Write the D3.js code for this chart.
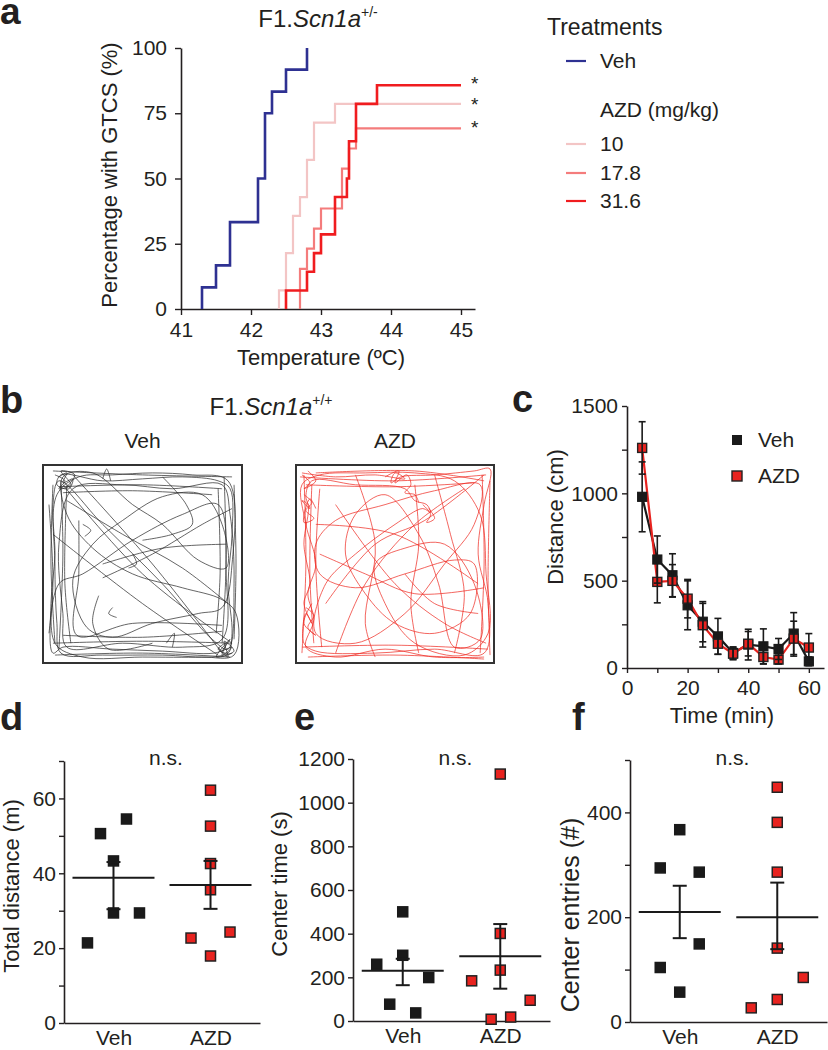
<!DOCTYPE html>
<html><head><meta charset="utf-8">
<script src="https://cdn.jsdelivr.net/npm/d3@7"></script>
<style>
body{margin:0;background:#fff;}
svg{display:block;font-family:"Liberation Sans",Arial,Helvetica,sans-serif;}
</style></head><body>
<svg id="fig" width="828" height="1050"></svg>
<script>
// ---------------- DATA ----------------
// Panel a: cumulative percentage with GTCS vs temperature (step curves)
const aTicksX = [41, 42, 43, 44, 45];
const aTicksY = [0, 25, 50, 75, 100];
const vehTemp = [41.3, 41.5, 41.7, 42.1, 42.2, 42.3, 42.5, 42.8];
const vehPct  = [8.3, 16.7, 33.3, 50, 75, 83.3, 91.7, 100];
const azd10Temp = [42.4, 42.5, 42.6, 42.7, 42.8, 42.9, 43.2];
const azd10Pct  = [7.1, 21.4, 35.7, 42.9, 57.1, 71.4, 78.6];
const azd17Temp = [42.7, 42.8, 42.9, 43.0, 43.3, 43.4, 43.5];
const azd17Pct  = [15.4, 23.1, 30.8, 38.5, 53.8, 61.5, 69.2];
const azd31Temp = [42.5, 42.8, 42.9, 43.0, 43.2, 43.37, 43.4, 43.5, 43.8];
const azd31Pct  = [7.1, 14.3, 21.4, 28.6, 42.9, 50, 64.3, 78.6, 85.7];
const doseLabels = ["10", "17.8", "31.6"];

// Panel b: open-field tracks (normalized arena coordinates 0..1)
const vehTrack = [
  [[0.08,0.06],[0.12,0.04],[0.10,0.09],[0.15,0.07],[0.13,0.12],[0.07,0.10],[0.09,0.05],[0.30,0.08],[0.50,0.07],[0.70,0.06],[0.88,0.08],[0.94,0.12],[0.95,0.35],[0.93,0.60],[0.95,0.85],[0.93,0.95],[0.88,0.93],[0.92,0.90],[0.90,0.96],[0.95,0.92],[0.86,0.95],[0.60,0.94],[0.35,0.93],[0.10,0.92],[0.05,0.95],[0.04,0.70],[0.06,0.45],[0.05,0.20],[0.08,0.08],[0.30,0.30],[0.60,0.60],[0.85,0.88],[0.93,0.93],[0.96,0.60],[0.94,0.25],[0.90,0.10],[0.65,0.12],[0.40,0.10],[0.15,0.12],[0.08,0.40],[0.10,0.75],[0.12,0.92],[0.40,0.90],[0.70,0.92],[0.90,0.88],[0.92,0.55],[0.88,0.20],[0.70,0.25],[0.45,0.38],[0.20,0.55],[0.08,0.60],[0.06,0.90],[0.20,0.97],[0.50,0.97],[0.80,0.97],[0.96,0.96],[0.97,0.75],[0.90,0.68],[0.70,0.62],[0.45,0.55],[0.25,0.42],[0.12,0.25],[0.10,0.06],[0.25,0.04],[0.45,0.20],[0.60,0.30],[0.78,0.48],[0.92,0.52],[0.90,0.30],[0.80,0.15],[0.60,0.16],[0.40,0.28],[0.25,0.40],[0.15,0.58],[0.22,0.82],[0.35,0.87],[0.55,0.80],[0.78,0.75],[0.90,0.72],[0.95,0.50],[0.93,0.08],[0.75,0.05],[0.55,0.04],[0.35,0.05],[0.18,0.06],[0.07,0.15],[0.06,0.50],[0.07,0.80],[0.09,0.95],[0.30,0.96],[0.60,0.96],[0.85,0.97],[0.95,0.95]],
  [[0.18,0.28],[0.18,0.55],[0.17,0.86],[0.45,0.80],[0.90,0.81]],
  [[0.12,0.18],[0.40,0.35],[0.70,0.52],[0.93,0.70]],
  [[0.30,0.57],[0.55,0.45],[0.80,0.30],[0.95,0.22]],
  [[0.28,0.66],[0.25,0.80],[0.33,0.93],[0.55,0.90]],
  [[0.06,0.05],[0.11,0.08],[0.08,0.12],[0.14,0.10],[0.09,0.03],[0.16,0.05],[0.12,0.11]],
  [[0.88,0.92],[0.93,0.97],[0.91,0.89],[0.96,0.94],[0.87,0.97],[0.94,0.88],[0.90,0.94]],
  [[0.05,0.10],[0.04,0.50],[0.06,0.90]],
  [[0.09,0.08],[0.10,0.45],[0.08,0.93]],
  [[0.12,0.10],[0.11,0.60],[0.14,0.90]],
  [[0.03,0.20],[0.05,0.60],[0.03,0.85]],
  [[0.91,0.06],[0.92,0.50],[0.90,0.90]],
  [[0.96,0.10],[0.97,0.50],[0.96,0.88]],
  [[0.88,0.12],[0.89,0.55],[0.87,0.85]],
  [[0.05,0.03],[0.50,0.05],[0.95,0.06]],
  [[0.08,0.11],[0.50,0.10],[0.90,0.12]],
  [[0.10,0.14],[0.45,0.13],[0.85,0.15]],
  [[0.05,0.90],[0.50,0.89],[0.95,0.90]],
  [[0.06,0.96],[0.50,0.95],[0.94,0.97]],
  [[0.10,0.86],[0.50,0.87],[0.90,0.84]],
  [[0.30,0.07],[0.32,0.02],[0.34,0.08]],
  [[0.20,0.30],[0.24,0.33],[0.21,0.36]],
  [[0.45,0.45],[0.47,0.50],[0.43,0.52]],
  [[0.35,0.72],[0.33,0.75],[0.37,0.77]],
  [[0.62,0.90],[0.66,0.85],[0.65,0.92]],
  [[0.10,0.10],[0.50,0.55],[0.95,0.90]],
  [[0.15,0.05],[0.55,0.50],[0.90,0.95]],
  [[0.05,0.35],[0.50,0.70],[0.88,0.96]],
  [[0.30,0.50],[0.60,0.42],[0.92,0.40]],
  [[0.60,0.06],[0.72,0.20],[0.75,0.30],[0.65,0.35],[0.50,0.38]]
];
const azdTrack = [
  [[0.03,0.04],[0.20,0.06],[0.40,0.05],[0.55,0.07],[0.50,0.04],[0.48,0.09],[0.53,0.06],[0.70,0.05],[0.90,0.03],[0.98,0.02],[0.95,0.20],[0.92,0.45],[0.97,0.70],[0.95,0.95],[0.70,0.93],[0.40,0.95],[0.10,0.94],[0.04,0.90],[0.05,0.75],[0.08,0.80],[0.04,0.70],[0.07,0.60],[0.04,0.40],[0.06,0.20],[0.03,0.18],[0.07,0.22],[0.05,0.16],[0.08,0.08],[0.30,0.10],[0.55,0.12],[0.60,0.18],[0.66,0.20],[0.68,0.24],[0.64,0.22],[0.50,0.30],[0.30,0.45],[0.15,0.60],[0.10,0.85],[0.30,0.90],[0.55,0.75],[0.75,0.50],[0.90,0.30],[0.93,0.10],[0.70,0.13],[0.45,0.20],[0.20,0.28],[0.10,0.40],[0.12,0.55],[0.30,0.62],[0.55,0.55],[0.80,0.48],[0.90,0.50],[0.88,0.75],[0.70,0.85],[0.50,0.80],[0.35,0.65],[0.25,0.45],[0.30,0.25],[0.45,0.15],[0.62,0.35],[0.72,0.60],[0.80,0.92],[0.93,0.88],[0.90,0.60],[0.75,0.40],[0.55,0.42],[0.40,0.50],[0.45,0.70],[0.60,0.90],[0.85,0.96],[0.97,0.85],[0.96,0.55],[0.93,0.25],[0.80,0.08],[0.60,0.04],[0.35,0.04],[0.12,0.05],[0.03,0.10],[0.05,0.30],[0.10,0.50],[0.06,0.65],[0.09,0.78],[0.05,0.92],[0.20,0.97],[0.45,0.93],[0.70,0.97],[0.95,0.97]],
  [[0.04,0.15],[0.08,0.19],[0.05,0.23],[0.09,0.27],[0.04,0.29],[0.07,0.17],[0.10,0.22]],
  [[0.05,0.72],[0.09,0.76],[0.06,0.82],[0.10,0.86],[0.04,0.80],[0.08,0.70]],
  [[0.45,0.06],[0.52,0.03],[0.50,0.09],[0.56,0.05],[0.58,0.10],[0.55,0.14],[0.60,0.15],[0.62,0.19]],
  [[0.15,0.70],[0.40,0.40],[0.65,0.28],[0.95,0.05]],
  [[0.20,0.20],[0.50,0.60],[0.75,0.80],[0.96,0.90]],
  [[0.60,0.10],[0.62,0.40],[0.58,0.70],[0.62,0.95]],
  [[0.04,0.05],[0.05,0.50],[0.03,0.95]],
  [[0.08,0.10],[0.07,0.55],[0.09,0.90]],
  [[0.12,0.12],[0.10,0.50],[0.13,0.92]],
  [[0.94,0.05],[0.95,0.50],[0.93,0.95]],
  [[0.98,0.08],[0.97,0.60],[0.98,0.96]],
  [[0.02,0.06],[0.50,0.08],[0.96,0.05]],
  [[0.05,0.10],[0.50,0.11],[0.90,0.09]],
  [[0.10,0.04],[0.60,0.03],[0.95,0.08]],
  [[0.03,0.92],[0.50,0.91],[0.97,0.93]],
  [[0.06,0.97],[0.50,0.96],[0.95,0.98]],
  [[0.10,0.30],[0.50,0.35],[0.92,0.60]],
  [[0.20,0.95],[0.35,0.60],[0.60,0.30],[0.85,0.12]],
  [[0.30,0.05],[0.40,0.40],[0.35,0.80],[0.40,0.97]],
  [[0.55,0.55],[0.70,0.70],[0.92,0.75]],
  [[0.12,0.45],[0.35,0.55],[0.60,0.65],[0.95,0.62]],
  [[0.70,0.05],[0.78,0.35],[0.85,0.65],[0.80,0.95]],
  [[0.03,0.05],[0.07,0.09],[0.04,0.12],[0.10,0.08],[0.06,0.03]],
  [[0.64,0.20],[0.68,0.25],[0.66,0.29],[0.70,0.27],[0.67,0.22]]
];

// Panel c: distance per 5-min bin
const timeMin = [5, 10, 15, 20, 25, 30, 35, 40, 45, 50, 55, 60];
const cVehDist = [980, 621, 531, 359, 265, 181, 86, 134, 124, 109, 197, 38];
const cVehSem  = [200, 135, 123, 140, 115, 103, 35, 88, 100, 60, 120, 25];
const cAzdDist = [1260, 493, 499, 397, 245, 139, 82, 139, 63, 48, 168, 117];
const cAzdSem  = [150, 120, 93, 110, 125, 60, 35, 70, 40, 25, 100, 80];
const cTicksX = [0, 10, 20, 30, 40, 50, 60];
const cTicksY = [0, 250, 500, 750, 1000, 1250, 1500];

// Panels d-f: individual animals, mean and SEM
const groups = ["Veh", "AZD"];
const dVeh = [21.4, 50.6, 43.3, 29.4, 29.4, 54.5];
const dVehJit = [-2, -1, 0, 0, 2, 1];
const dAzd = [62.2, 52.6, 42.6, 35.6, 22.7, 17.9, 24.3];
const dAzdJit = [0, 0, 0, 0, -1.5, 0, 1.5];
const dMean = [38.8, 36.9], dLo = [30.4, 30.5], dHi = [43.0, 43.3];
const dTicks = [0, 10, 20, 30, 40, 50, 60, 70];

const eVeh = [260, 500, 301, 77, 37, 199];
const eVehJit = [-2, 0, 0, -1, 1, 2];
const eAzd = [184, 1131, 401, 233, 8, 18, 95];
const eAzdJit = [-2.2, 0, 0, 0, -0.7, 0.8, 2.3];
const eMean = [230, 297], eLo = [164, 148], eHi = [285, 444];
const eTicks = [0, 200, 400, 600, 800, 1000, 1200];

const fVeh = [294, 367, 286, 149, 104, 57];
const fVehJit = [-1.5, 0, 1.5, 1.5, -1.5, 0];
const fAzd = [448, 381, 286, 141, 27, 43, 85];
const fAzdJit = [0, 0, 0, 0, -2, 0, 2];
const fMean = [210, 200], fLo = [160, 139], fHi = [260, 266];
const fTicks = [0, 100, 200, 300, 400, 500];

// ---------------- STYLE ----------------
const INK = "#231f20";
const BLUE = "#2e3192", RED = "#f01c1f", MID = "#f47c7c", LIGHT = "#f3c5c5";
const MRED = "#e8231f";
const FONT = '"Liberation Sans", Arial, Helvetica, sans-serif';

const svg = d3.select("#fig");

function styleAxis(g, fs) {
  g.attr("font-family", FONT).attr("font-size", fs);
  g.select(".domain").attr("stroke", INK).attr("stroke-width", 1.6);
  g.selectAll(".tick line").attr("stroke", INK).attr("stroke-width", 1.4);
  g.selectAll(".tick text").attr("fill", INK);
}
function txt(x, y, s, fs, opts = {}) {
  const t = svg.append("text").attr("x", x).attr("y", y).attr("font-size", fs)
    .attr("fill", INK).attr("font-family", FONT).text(s);
  if (opts.anchor) t.attr("text-anchor", opts.anchor);
  if (opts.bold) t.attr("font-weight", "bold");
  return t;
}
function vtxt(x, y, s, fs) {
  return svg.append("text").attr("transform", `translate(${x},${y}) rotate(-90)`)
    .attr("text-anchor", "middle").attr("font-size", fs).attr("fill", INK)
    .attr("font-family", FONT).text(s);
}
function titleSup(cx, y, sup) {
  const t = svg.append("text").attr("x", cx).attr("y", y).attr("text-anchor", "middle")
    .attr("font-size", 24).attr("fill", INK).attr("font-family", FONT);
  t.append("tspan").text("F1.");
  t.append("tspan").attr("font-style", "italic").text("Scn1a");
  t.append("tspan").attr("font-size", 14).attr("dy", -10).text(sup);
}

// ---------------- PANEL LABELS ----------------
txt(0, 24, "a", 37, {bold: true});
txt(0, 413, "b", 38, {bold: true});
txt(512, 412, "c", 38, {bold: true});
txt(0, 730, "d", 38, {bold: true});
txt(294, 730, "e", 38, {bold: true});
txt(572, 730, "f", 38, {bold: true});

// ---------------- PANEL A ----------------
{
  const x = d3.scaleLinear().domain([41, 45.2]).range([181, 475]);
  const y = d3.scaleLinear().domain([0, 100]).range([309, 48]);
  const gx = svg.append("g").attr("transform", "translate(0,309)")
    .call(d3.axisBottom(x).tickValues(aTicksX).tickFormat(d3.format("d"))
      .tickSize(6).tickPadding(7).tickSizeOuter(0));
  styleAxis(gx, 21);
  const gy = svg.append("g").attr("transform", "translate(181,0)")
    .call(d3.axisLeft(y).tickValues(aTicksY).tickSize(6).tickPadding(8).tickSizeOuter(0));
  styleAxis(gy, 21);
  titleSup(318, 27, "+/-");
  txt(321, 365, "Temperature (ºC)", 22, {anchor: "middle"});
  vtxt(117, 175, "Percentage with GTCS (%)", 22);

  const step = d3.line().x(d => x(d[0])).y(d => y(d[1])).curve(d3.curveStepAfter);
  function pts(T, P, extend) {
    const p = [[T[0], 0]];
    T.forEach((t, i) => p.push([t, P[i]]));
    if (extend) p.push([45, P[P.length - 1]]);
    return p;
  }
  const series = [
    {T: azd10Temp, P: azd10Pct, c: LIGHT, w: 2.2, ext: true},
    {T: azd17Temp, P: azd17Pct, c: MID, w: 2.2, ext: true},
    {T: azd31Temp, P: azd31Pct, c: RED, w: 2.6, ext: true},
    {T: vehTemp, P: vehPct, c: BLUE, w: 2.6, ext: false}
  ];
  series.forEach(s => {
    svg.append("path").attr("d", step(pts(s.T, s.P, s.ext))).attr("fill", "none")
      .attr("stroke", s.c).attr("stroke-width", s.w);
  });
  const starOff = [5, 7, 6];
  [azd31Pct, azd10Pct, azd17Pct].forEach((P, i) => {
    txt(x(45) + 10, y(P[P.length - 1]) + starOff[i], "*", 19);
  });

  // legend
  txt(547, 35, "Treatments", 23);
  svg.append("line").attr("x1", 566).attr("x2", 586).attr("y1", 61).attr("y2", 61)
    .attr("stroke", BLUE).attr("stroke-width", 2.2);
  txt(600, 68, "Veh", 21);
  txt(600, 117, "AZD (mg/kg)", 21);
  const lc = [LIGHT, MID, RED], ly = [144, 173, 201];
  doseLabels.forEach((l, i) => {
    svg.append("line").attr("x1", 566).attr("x2", 586).attr("y1", ly[i]).attr("y2", ly[i])
      .attr("stroke", lc[i]).attr("stroke-width", 2.2);
    txt(600, ly[i] + 7, l, 21);
  });
}

// ---------------- PANEL B ----------------
{
  titleSup(271, 415, "+/+");
  const boxes = [
    {x0: 43, x1: 242, label: "Veh", track: vehTrack, c: "#2a2a2a"},
    {x0: 296, x1: 494, label: "AZD", track: azdTrack, c: "#ee2a22"}
  ];
  boxes.forEach(b => {
    const sx = d3.scaleLinear().domain([0, 1]).range([b.x0, b.x1]);
    const sy = d3.scaleLinear().domain([0, 1]).range([465, 663]);
    txt((b.x0 + b.x1) / 2, 448, b.label, 21, {anchor: "middle"});
    const line = d3.line().x(d => sx(d[0])).y(d => sy(d[1])).curve(d3.curveCatmullRom.alpha(0.5));
    b.track.forEach(seg => {
      svg.append("path").attr("d", line(seg)).attr("fill", "none")
        .attr("stroke", b.c).attr("stroke-width", 0.8).attr("stroke-opacity", 0.9);
    });
    svg.append("rect").attr("x", b.x0).attr("y", 465).attr("width", b.x1 - b.x0)
      .attr("height", 198).attr("fill", "none").attr("stroke", "#333").attr("stroke-width", 2);
  });
}

// ---------------- PANEL C ----------------
{
  const x = d3.scaleLinear().domain([0, 65]).range([627, 824]);
  const y = d3.scaleLinear().domain([0, 1500]).range([668, 406]);
  const gx = svg.append("g").attr("transform", "translate(0,668)")
    .call(d3.axisBottom(x).tickValues(cTicksX).tickFormat(d => d % 20 === 0 ? d : "")
      .tickSize(5).tickPadding(7).tickSizeOuter(0));
  styleAxis(gx, 21);
  const gy = svg.append("g").attr("transform", "translate(627,0)")
    .call(d3.axisLeft(y).tickValues(cTicksY).tickFormat(d => d % 500 === 0 ? d : "")
      .tickSize(5).tickPadding(4).tickSizeOuter(0));
  styleAxis(gy, 21);
  txt(722, 723, "Time (min)", 22, {anchor: "middle"});
  vtxt(563, 517, "Distance (cm)", 22);

  const line = d3.line().x((d, i) => x(timeMin[i])).y(d => y(d));
  svg.append("path").attr("d", line(cVehDist)).attr("fill", "none").attr("stroke", "#1a1a1a").attr("stroke-width", 2.2);
  svg.append("path").attr("d", line(cAzdDist)).attr("fill", "none").attr("stroke", MRED).attr("stroke-width", 2.2);
  const sq = 9;
  svg.append("g").selectAll("rect").data(cVehDist).join("rect")
    .attr("x", (d, i) => x(timeMin[i]) - sq / 2).attr("y", d => y(d) - sq / 2)
    .attr("width", sq).attr("height", sq).attr("fill", "#1a1a1a").attr("stroke", "#1a1a1a").attr("stroke-width", 1.2);
  svg.append("g").selectAll("rect").data(cAzdDist).join("rect")
    .attr("x", (d, i) => x(timeMin[i]) - sq / 2).attr("y", d => y(d) - sq / 2)
    .attr("width", sq).attr("height", sq).attr("fill", MRED).attr("stroke", "#222").attr("stroke-width", 1.4);
  function errs(vals, sems) {
    const g = svg.append("g").attr("stroke", "#1a1a1a").attr("stroke-width", 1.6);
    vals.forEach((v, i) => {
      const cx = x(timeMin[i]), lo = y(v - sems[i]), hi = y(v + sems[i]);
      g.append("line").attr("x1", cx).attr("x2", cx).attr("y1", lo).attr("y2", hi);
      g.append("line").attr("x1", cx - 3.5).attr("x2", cx + 3.5).attr("y1", lo).attr("y2", lo);
      g.append("line").attr("x1", cx - 3.5).attr("x2", cx + 3.5).attr("y1", hi).attr("y2", hi);
    });
  }
  errs(cVehDist, cVehSem);
  errs(cAzdDist, cAzdSem);
  // legend
  svg.append("rect").attr("x", 732).attr("y", 435).attr("width", 10).attr("height", 10).attr("fill", "#1a1a1a");
  txt(758, 447, "Veh", 21);
  svg.append("rect").attr("x", 732).attr("y", 471).attr("width", 10).attr("height", 10)
    .attr("fill", MRED).attr("stroke", "#222").attr("stroke-width", 1.4);
  txt(758, 483, "AZD", 21);
}

// ---------------- PANELS D-F ----------------
function scatterPanel(cfg) {
  const x = d3.scalePoint().domain(groups).range([cfg.x0, cfg.x1]).padding(0.51);
  const y = d3.scaleLinear().domain(cfg.domain).range([cfg.yb, cfg.yt]);
  const gx = svg.append("g").attr("transform", `translate(0,${cfg.yb})`)
    .call(d3.axisBottom(x).tickSize(0).tickPadding(7).tickSizeOuter(0));
  styleAxis(gx, 21);
  const gy = svg.append("g").attr("transform", `translate(${cfg.x0},0)`)
    .call(d3.axisLeft(y).tickValues(cfg.ticks).tickFormat(cfg.fmt).tickSize(5).tickPadding(3).tickSizeOuter(0));
  styleAxis(gy, 21);
  vtxt(cfg.titleX, cfg.titleY, cfg.title, cfg.titleSize);
  txt((x("Veh") + x("AZD")) / 2 + 4, 765, "n.s.", 21, {anchor: "middle"});
  const sq = 10;
  const sets = [
    {g: "Veh", v: cfg.veh, j: cfg.vehJit, fill: "#1a1a1a", stroke: "#1a1a1a"},
    {g: "AZD", v: cfg.azd, j: cfg.azdJit, fill: MRED, stroke: "#222"}
  ];
  sets.forEach(s => {
    svg.append("g").selectAll("rect").data(s.v).join("rect")
      .attr("x", (d, i) => x(s.g) + s.j[i] * cfg.jit - sq / 2)
      .attr("y", d => y(d) - sq / 2).attr("width", sq).attr("height", sq)
      .attr("fill", s.fill).attr("stroke", s.stroke).attr("stroke-width", 1.5);
  });
  const g = svg.append("g").attr("stroke", "#1a1a1a").attr("stroke-width", 2);
  groups.forEach((k, i) => {
    const cx = x(k);
    g.append("line").attr("x1", cx - 41).attr("x2", cx + 41).attr("y1", y(cfg.mean[i])).attr("y2", y(cfg.mean[i]));
    g.append("line").attr("x1", cx).attr("x2", cx).attr("y1", y(cfg.lo[i])).attr("y2", y(cfg.hi[i]));
    g.append("line").attr("x1", cx - 7).attr("x2", cx + 7).attr("y1", y(cfg.lo[i])).attr("y2", y(cfg.lo[i]));
    g.append("line").attr("x1", cx - 7).attr("x2", cx + 7).attr("y1", y(cfg.hi[i])).attr("y2", y(cfg.hi[i]));
  });
}

scatterPanel({x0: 64, x1: 260, yb: 1023, yt: 761, domain: [0, 70], ticks: dTicks,
  fmt: d => d % 20 === 0 ? d : "", title: "Total distance (m)", titleX: 19, titleY: 886, titleSize: 22,
  veh: dVeh, vehJit: dVehJit, azd: dAzd, azdJit: dAzdJit, jit: 13, mean: dMean, lo: dLo, hi: dHi});
scatterPanel({x0: 353, x1: 550, yb: 1021, yt: 759, domain: [0, 1200], ticks: eTicks,
  fmt: d => d, title: "Center time (s)", titleX: 287, titleY: 884, titleSize: 22,
  veh: eVeh, vehJit: eVehJit, azd: eAzd, azdJit: eAzdJit, jit: 13, mean: eMean, lo: eLo, hi: eHi});
scatterPanel({x0: 630, x1: 827, yb: 1022, yt: 760, domain: [0, 500], ticks: fTicks,
  fmt: d => d % 200 === 0 ? d : "", title: "Center entries (#)", titleX: 579, titleY: 915, titleSize: 25,
  veh: fVeh, vehJit: fVehJit, azd: fAzd, azdJit: fAzdJit, jit: 13, mean: fMean, lo: fLo, hi: fHi});
</script>
</body></html>
